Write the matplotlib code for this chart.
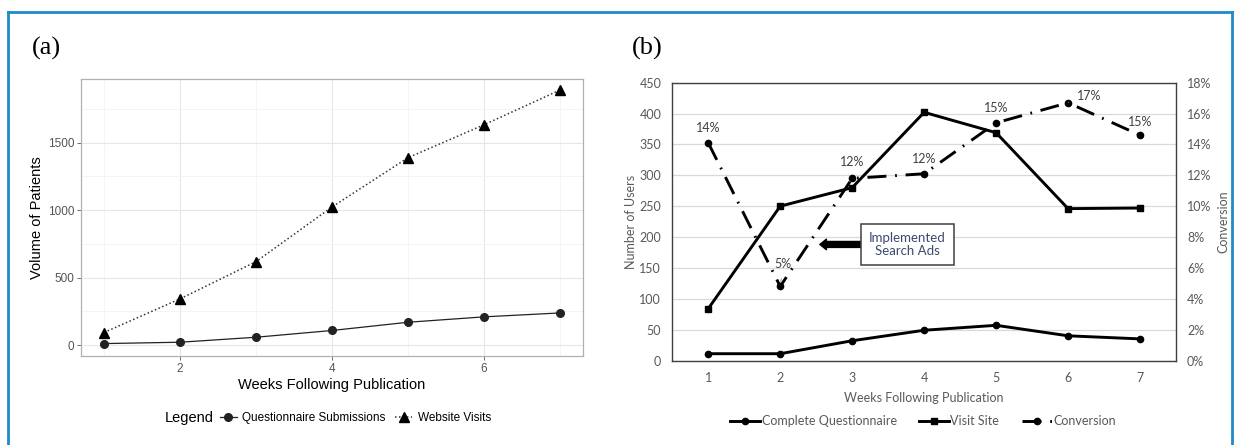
import matplotlib.pyplot as plt
from matplotlib.lines import Line2D
from matplotlib.ticker import FuncFormatter, MultipleLocator

# Semanas tras la publicación
weeks = [1, 2, 3, 4, 5, 6, 7]

# Panel (a)
questionnaire_a = [12, 22, 59, 109, 170, 210, 239]
website_a = [94, 343, 619, 1024, 1389, 1633, 1890]

# Panel (b)
complete_q = [11, 11, 32, 49, 57, 40, 35]
visit_site = [84, 250, 280, 402, 369, 246, 247]
conversion = [14.1, 4.8, 11.8, 12.1, 15.4, 16.7, 14.6]
conv_labels = ['14%', '5%', '12%', '12%', '15%', '17%', '15%']

W, H = 1237, 445
fig = plt.figure(figsize=(W / 100, H / 100), dpi=100)


def rect(x0, y0, x1, y1):
    return [x0 / W, 1 - y1 / H, (x1 - x0) / W, (y1 - y0) / H]


# Marco azul
blue = '#1f8ac8'
for xs, ys in [([8, 8], [12, 445]), ([8, 1232], [12, 12]), ([1232, 1232], [12, 445])]:
    fig.add_artist(Line2D([x / W for x in xs], [1 - y / H for y in ys], color=blue, lw=2))

fig.text(46 / W, 1 - 48 / H, '(a)', family='Liberation Serif', fontsize=19, ha='center', va='center')
fig.text(647 / W, 1 - 48 / H, '(b)', family='Liberation Serif', fontsize=19, ha='center', va='center')

# ---------------- (a) estilo ggplot theme_bw ----------------
sans = 'Liberation Sans'
ax = fig.add_axes(rect(81.2, 79, 582.8, 356))
ax.set_xlim(0.7, 7.3)
ax.set_ylim(-80, 1972)
ax.xaxis.set_major_locator(MultipleLocator(2))
ax.xaxis.set_minor_locator(MultipleLocator(1))
ax.yaxis.set_major_locator(MultipleLocator(500))
ax.yaxis.set_minor_locator(MultipleLocator(250))
ax.grid(which='major', color='#e6e6e6', lw=0.8)
ax.grid(which='minor', color='#f2f2f2', lw=0.6)
ax.set_axisbelow(True)
for s in ax.spines.values():
    s.set_color('#b0b0b0')
    s.set_linewidth(0.9)
ax.tick_params(which='major', length=3, color='#555555', width=0.6, labelsize=8.5, labelcolor='#555555', pad=2)
ax.tick_params(which='minor', length=0)
for t in ax.get_xticklabels() + ax.get_yticklabels():
    t.set_family(sans)

ax.plot(weeks, questionnaire_a, color='#222222', lw=0.9, marker='o', ms=5.5, label='Questionnaire Submissions')
ax.plot(weeks, website_a, color='#333333', lw=1.1, ls=(0, (1, 1.6)), marker='^', ms=7,
        mfc='black', mec='black', label='Website Visits')
ax.set_xlabel('Weeks Following Publication', family=sans, fontsize=10.5, labelpad=2)
ax.set_ylabel('Volume of Patients', family=sans, fontsize=10.5, labelpad=3)

fig.text(189 / W, 1 - 418 / H, 'Legend', family=sans, fontsize=10.5, ha='center', va='center')
h, l = ax.get_legend_handles_labels()
fig.legend(h, l, loc='center left', bbox_to_anchor=(220 / W, 1 - 418 / H), ncol=2, frameon=False,
           prop={'family': sans, 'size': 8.5}, handlelength=1.4, handletextpad=0.5, columnspacing=0.8,
           borderpad=0, borderaxespad=0)

# ---------------- (b) estilo Excel ----------------
cal = 'Lato'
grey = '#595959'
bx = fig.add_axes(rect(672.3, 82.7, 1176, 360.5))
bx.set_xlim(0.5, 7.5)
bx.set_ylim(0, 450)
bx.set_xticks(weeks)
bx.yaxis.set_major_locator(MultipleLocator(50))
bx.grid(axis='y', color='#d9d9d9', lw=0.9)
bx.set_axisbelow(True)
for s in bx.spines.values():
    s.set_color('#404040')
    s.set_linewidth(1.0)
bx.tick_params(length=0, labelsize=9, labelcolor=grey, pad=8)
for t in bx.get_xticklabels() + bx.get_yticklabels():
    t.set_family(cal)

l1, = bx.plot(weeks, complete_q, color='black', lw=2.1, marker='o', ms=4.5, label='Complete Questionnaire')
l2, = bx.plot(weeks, visit_site, color='black', lw=2.1, marker='s', ms=5, label='Visit Site')
bx.set_xlabel('Weeks Following Publication', family=cal, fontsize=9, color=grey, labelpad=6)
bx.set_ylabel('Number of Users', family=cal, fontsize=9, color=grey, labelpad=2)

cx = bx.twinx()
cx.set_ylim(0, 18)
cx.yaxis.set_major_locator(MultipleLocator(2))
cx.yaxis.set_major_formatter(FuncFormatter(lambda v, p: f'{v:.0f}%'))
cx.tick_params(length=0, labelsize=9, labelcolor=grey, pad=8)
for t in cx.get_yticklabels():
    t.set_family(cal)
for s in cx.spines.values():
    s.set_visible(False)
l3, = cx.plot(weeks, conversion, color='black', lw=2.1, ls=(0, (6.5, 3, 0.6, 3)), marker='o', ms=4.5,
              label='Conversion')
cx.set_ylabel('Conversion', family=cal, fontsize=9, color=grey, labelpad=4)

# etiquetas de conversión
offsets = [(0, 15), (3, 22), (0, 16), (0, 15), (0, 15), (21, 7), (0, 13)]
for x, y, txt, off in zip(weeks, conversion, conv_labels, offsets):
    kw = {}
    if off[0] != 0:
        kw['arrowprops'] = dict(arrowstyle='-', color='#808080', lw=0.6, shrinkA=4, shrinkB=3)
    cx.annotate(txt, (x, y), xytext=off, textcoords='offset pixels', ha='center', va='center',
                family=cal, fontsize=9, color='#404040', **kw)

bx.annotate('Implemented\nSearch Ads', xy=(2.55, 188), xytext=(3.77, 188), ha='center', va='center',
            family=cal, fontsize=9.5, color='#3b4a6e', zorder=5, linespacing=1.15,
            bbox=dict(boxstyle='square,pad=0.6', fc='white', ec='#404040', lw=1.1),
            arrowprops=dict(arrowstyle='simple,head_length=0.5,head_width=0.8,tail_width=0.45',
                            fc='black', ec='black', shrinkA=0, shrinkB=0))

fig.legend([l1, l2, l3], ['Complete Questionnaire', 'Visit Site', 'Conversion'], loc='center',
           bbox_to_anchor=(923 / W, 1 - 421 / H), ncol=3, frameon=False,
           prop={'family': cal, 'size': 9}, labelcolor=grey, handlelength=2.4, handletextpad=0.1,
           columnspacing=1.8, borderpad=0, borderaxespad=0)

fig.savefig('out.png', dpi=100)
